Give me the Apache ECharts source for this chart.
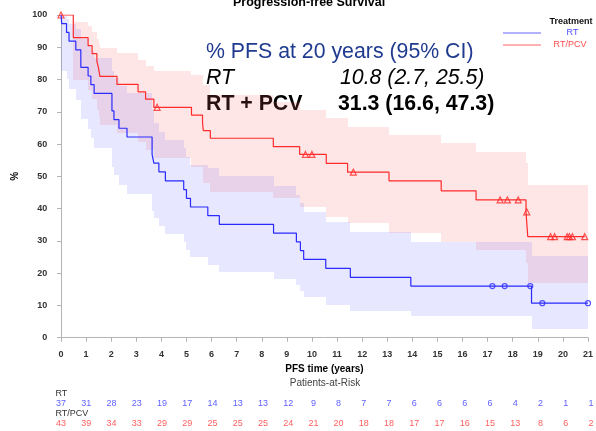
<!DOCTYPE html>
<html>
<head>
<meta charset="utf-8">
<script src="https://cdn.jsdelivr.net/npm/echarts@6/dist/echarts.min.js"></script>
<style>
html, body { margin: 0; padding: 0; background: #fff; }
#main { width: 596px; height: 431px; }
</style>
</head>
<body>
<div id="main"></div>
<script>
// Kaplan-Meier steps (time in years, PFS in %)
var rtTime  = [0, 0.03, 0.22, 0.32, 0.59, 0.79, 1.08, 1.19, 1.32, 2.03, 2.11, 2.31, 2.63, 3.63, 3.70, 3.90, 4.16, 4.89, 5.00, 5.16, 5.85, 6.31, 8.47, 9.38, 9.54, 9.67, 10.55, 11.53, 13.94, 18.75, 21.0];
var rtSurv  = [100, 97.3, 94.6, 91.9, 89.2, 83.8, 81.1, 78.4, 75.7, 70.3, 67.6, 64.9, 62.2, 56.8, 54.1, 51.4, 48.6, 45.9, 43.2, 40.5, 37.8, 35.1, 32.4, 29.7, 27.0, 24.3, 21.5, 18.7, 16.0, 10.7, 10.7];
var rtLower = [82.6, 82.6, 80.2, 77.1, 73.6, 67.8, 64.7, 62.0, 58.7, 53.0, 50.5, 47.3, 44.5, 39.4, 37.0, 34.6, 32.1, 29.7, 27.2, 25.1, 22.5, 20.5, 18.2, 16.2, 14.5, 12.7, 10.1, 8.4, 6.7, 2.7, 2.7];
var rtUpper = [100, 99.6, 98.7, 97.3, 95.7, 92.5, 90.8, 88.8, 86.6, 82.6, 80.5, 78.1, 75.7, 70.6, 66.4, 63.8, 61.3, 58.7, 56.1, 53.5, 52.7, 50.0, 47.0, 44.2, 41.6, 39.1, 35.9, 32.8, 29.8, 25.3, 25.3];
var rtCensor = [17.19, 17.68, 18.70, 19.18, 21.0];

var pcvTime  = [0, 0.49, 1.08, 1.24, 1.43, 1.50, 1.55, 2.23, 3.07, 3.37, 3.70, 5.20, 5.64, 5.67, 5.95, 8.46, 9.51, 10.57, 11.42, 13.07, 15.15, 16.54, 18.53, 18.60, 20.87];
var pcvSurv  = [100, 93.0, 90.5, 88.0, 85.7, 83.4, 81.0, 78.5, 76.2, 73.9, 71.4, 69.0, 66.6, 64.2, 61.8, 59.2, 56.8, 54.0, 51.3, 48.6, 45.5, 42.7, 39.0, 31.3, 31.3];
var pcvBandTime = [0, 0.49, 1.08, 1.24, 1.43, 1.50, 1.55, 2.23, 3.07, 3.37, 3.70, 5.20, 5.64, 5.67, 5.95, 8.46, 9.51, 10.57, 11.42, 13.07, 15.15, 16.54, 18.53, 18.60, 21.0];
var pcvLower = [100, 80.0, 76.8, 74.0, 70.5, 68.5, 65.9, 63.3, 60.7, 58.2, 55.6, 52.8, 50.5, 48.0, 45.2, 43.2, 40.6, 37.5, 35.4, 32.5, 29.8, 27.2, 23.0, 16.8, 16.8];
var pcvUpper = [100, 97.7, 96.5, 94.8, 92.5, 91.0, 89.9, 88.3, 86.0, 84.2, 82.8, 81.5, 79.5, 78.3, 75.2, 73.0, 70.6, 68.0, 65.4, 62.8, 60.2, 57.6, 54.0, 47.3, 47.3];
var pcvCensor = [0, 3.83, 9.74, 10.0, 11.65, 17.50, 17.79, 18.22, 18.56, 19.51, 19.67, 20.17, 20.26, 20.38, 20.87];

// patients at risk
var riskYears = [0, 1, 2, 3, 4, 5, 6, 7, 8, 9, 10, 11, 12, 13, 14, 15, 16, 17, 18, 19, 20, 21];
var rtRisk  = [37, 31, 28, 23, 19, 17, 14, 13, 13, 12, 9, 8, 7, 7, 6, 6, 6, 6, 4, 2, 1, 1];
var pcvRisk = [43, 39, 34, 33, 29, 29, 25, 25, 25, 24, 21, 20, 18, 18, 17, 17, 16, 15, 13, 8, 6, 2];

var BLUE = '#2a2aff', RED = '#ff2a2a';
var FONT = '"Liberation Sans", Arial, sans-serif';

function pairs(xs, ys) {
  return xs.map(function (x, i) { return [x, ys[i]]; });
}
function stepAt(times, vals, t) {
  var v = vals[0];
  for (var i = 0; i < times.length; i++) if (times[i] <= t) v = vals[i];
  return v;
}
// confidence band: one rectangle per step interval
function bandSeries(times, lo, hi, fill) {
  var data = [];
  for (var i = 0; i < times.length - 1; i++) {
    if (hi[i] > lo[i]) data.push([times[i], times[i + 1], lo[i], hi[i]]);
  }
  return {
    type: 'custom', silent: true, clip: true,
    encode: { x: [0, 1], y: [2, 3] },
    renderItem: function (params, api) {
      var a = api.coord([api.value(0), api.value(3)]);
      var b = api.coord([api.value(1), api.value(2)]);
      var x0 = Math.round(a[0]), x1 = Math.round(b[0]);
      var y0 = Math.round(a[1]), y1 = Math.round(b[1]);
      return { type: 'rect', shape: { x: x0, y: y0, width: x1 - x0, height: y1 - y0 },
        style: { fill: fill } };
    },
    data: data
  };
}
function riskSeries(vals, yPos, color) {
  return {
    type: 'scatter', xAxisIndex: 1, yAxisIndex: 1, symbolSize: 0, clip: false, silent: true,
    itemStyle: { color: 'transparent' },
    label: { show: true, position: 'inside', color: color, fontSize: 9, fontFamily: FONT,
      formatter: function (p) { return p.value[2]; } },
    data: riskYears.map(function (y, i) { return [y, yPos, vals[i]]; })
  };
}

var series = [
  bandSeries(pcvBandTime, pcvLower, pcvUpper, 'rgba(255,100,100,0.16)'),
  bandSeries(rtTime, rtLower, rtUpper, 'rgba(110,110,255,0.17)'),
  { type: 'line', step: 'end', symbol: 'none', data: pairs(rtTime, rtSurv),
    lineStyle: { color: BLUE, width: 1.2 } },
  { type: 'line', step: 'end', symbol: 'none', data: pairs(pcvTime, pcvSurv),
    lineStyle: { color: RED, width: 1.2 } },
  { type: 'scatter', symbol: 'circle', symbolSize: 5,
    itemStyle: { color: 'rgba(255,255,255,0)', borderColor: BLUE, borderWidth: 1.2 },
    data: rtCensor.map(function (t) { return [t, stepAt(rtTime, rtSurv, t)]; }) },
  { type: 'scatter', symbol: 'triangle', symbolSize: 6,
    itemStyle: { color: 'rgba(255,255,255,0)', borderColor: RED, borderWidth: 1.2 },
    data: pcvCensor.map(function (t) { return [t, stepAt(pcvTime, pcvSurv, t)]; }) },
  riskSeries(rtRisk, 1, '#3535ff'),
  riskSeries(pcvRisk, 0, '#ff3535')
];

var myChart = echarts.init(document.getElementById('main'));
var option = {
  animation: false,
  textStyle: { fontFamily: FONT },
  title: {
    text: 'Progression-free Survival',
    left: 228, top: -9,
    textStyle: { fontSize: 12.5, fontWeight: 'bold', color: '#000', fontFamily: FONT }
  },
  grid: [
    { left: 61, right: 5, top: 15, bottom: 93.3 },
    { left: 61, right: 5, top: 403.5, bottom: 7 }
  ],
  xAxis: [
    { type: 'value', gridIndex: 0, min: 0, max: 21, interval: 1, offset: 4.6,
      name: 'PFS time (years)', nameLocation: 'middle', nameGap: 22,
      nameTextStyle: { fontSize: 10, fontWeight: 'bold', color: '#000' },
      axisLine: { lineStyle: { color: '#b4b4b4', width: 1 } },
      axisTick: { length: 4, lineStyle: { color: '#b4b4b4' } },
      axisLabel: { fontSize: 9, fontWeight: 'bold', color: '#333', margin: 8 },
      splitLine: { show: false } },
    { type: 'value', gridIndex: 1, min: 0, max: 21, show: false }
  ],
  yAxis: [
    { type: 'value', gridIndex: 0, min: 0, max: 100, interval: 10, offset: 7.7,
      name: '%', nameLocation: 'middle', nameGap: 33,
      nameTextStyle: { fontSize: 10, fontWeight: 'bold', color: '#000' },
      axisLine: { show: true, lineStyle: { color: '#b4b4b4', width: 1 } },
      axisTick: { show: true, length: 4, lineStyle: { color: '#b4b4b4' } },
      axisLabel: { fontSize: 9, fontWeight: 'bold', color: '#333', margin: 6 },
      splitLine: { show: false } },
    { type: 'value', gridIndex: 1, min: 0, max: 1, show: false }
  ],
  graphic: [
    // legend
    { type: 'text', x: 571, y: 22, style: { text: 'Treatment', font: 'bold 9px ' + FONT, fill: '#111', align: 'center', verticalAlign: 'middle' } },
    { type: 'line', shape: { x1: 503, y1: 33, x2: 541, y2: 33 }, style: { stroke: '#6464ff', lineWidth: 1 } },
    { type: 'text', x: 572.5, y: 33, style: { text: 'RT', font: '9px ' + FONT, fill: '#4b4bff', align: 'center', verticalAlign: 'middle' } },
    { type: 'line', shape: { x1: 503, y1: 45, x2: 541, y2: 45 }, style: { stroke: '#ff6464', lineWidth: 1 } },
    { type: 'text', x: 570, y: 44.5, style: { text: 'RT/PCV', font: '9px ' + FONT, fill: '#ff4b4b', align: 'center', verticalAlign: 'middle' } },
    // annotation
    { type: 'text', x: 206, y: 52, style: { text: '% PFS at 20 years (95% CI)', font: '21.3px ' + FONT, fill: '#1f3a8f', verticalAlign: 'middle' } },
    { type: 'text', x: 206, y: 78, style: { text: 'RT', font: 'italic 21.3px ' + FONT, fill: '#000', verticalAlign: 'middle' } },
    { type: 'text', x: 340, y: 78, style: { text: '10.8 (2.7, 25.5)', font: 'italic 21.3px ' + FONT, fill: '#000', verticalAlign: 'middle' } },
    { type: 'text', x: 206, y: 104.5, style: { text: 'RT + PCV', font: 'bold 21.3px ' + FONT, fill: '#000', verticalAlign: 'middle' } },
    { type: 'text', x: 338, y: 104.5, style: { text: '31.3 (16.6, 47.3)', font: 'bold 21.3px ' + FONT, fill: '#000', verticalAlign: 'middle' } },
    // at-risk table labels
    { type: 'text', x: 325, y: 383.5, style: { text: 'Patients-at-Risk', font: '10px ' + FONT, fill: '#444', align: 'center', verticalAlign: 'middle' } },
    { type: 'text', x: 55.5, y: 393.5, style: { text: 'RT', font: '9px ' + FONT, fill: '#333', verticalAlign: 'middle' } },
    { type: 'text', x: 55.5, y: 413.5, style: { text: 'RT/PCV', font: '9px ' + FONT, fill: '#333', verticalAlign: 'middle' } }
  ],
  series: series
};
myChart.setOption(option);
</script>
</body>
</html>
